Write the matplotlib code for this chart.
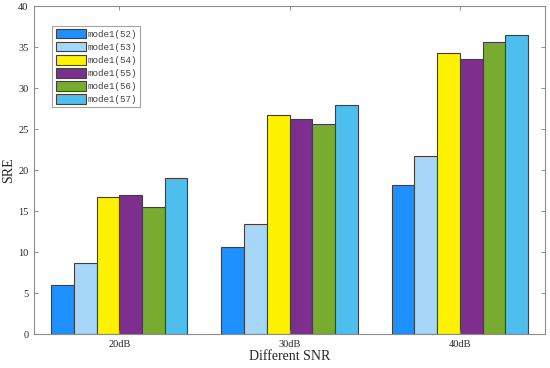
import matplotlib
matplotlib.use("Agg")
import matplotlib.pyplot as plt
import numpy as np

# data
groups = ['20dB', '30dB', '40dB']
models = ['mode1(52)', 'mode1(53)', 'mode1(54)', 'mode1(55)', 'mode1(56)', 'mode1(57)']
m52 = [6.0, 10.6, 18.2]
m53 = [8.7, 13.4, 21.7]
m54 = [16.7, 26.7, 34.35]
m55 = [16.95, 26.3, 33.55]
m56 = [15.5, 25.6, 35.6]
m57 = [19.0, 27.9, 36.5]
series = [m52, m53, m54, m55, m56, m57]
colors = ['#1E90FF', '#A6D6F8', '#FFF200', '#7E2F8E', '#77AC30', '#4DBEEE']

fig = plt.figure(figsize=(5.5, 3.68), dpi=100)
ax = fig.add_axes([0.062, 0.092, 0.929, 0.891])

x = np.arange(1, len(groups) + 1)
w = 0.8 / len(series)
for i, (vals, c, lab) in enumerate(zip(series, colors, models)):
    ax.bar(x + (i - 2.5) * w, vals, width=w, color=c, edgecolor='#404040',
           linewidth=0.8, label=lab)

ax.set_xlim(0.5, 3.5)
ax.set_ylim(0, 40)
ax.set_xticks(x)
ax.set_xticklabels(groups)
ax.set_yticks(range(0, 41, 5))
ax.tick_params(direction='in', top=True, right=True, length=3, width=0.6,
               color='#808080', labelsize=7.5, labelcolor='#262626', pad=4)
for lbl in ax.get_xticklabels() + ax.get_yticklabels():
    lbl.set_family('Liberation Serif')
for s in ax.spines.values():
    s.set_color('#8c8c8c')
    s.set_linewidth(0.8)

ax.set_xlabel('Different SNR', family='Liberation Serif', fontsize=10, color='#262626', labelpad=1)
ax.set_ylabel('SRE', family='Liberation Serif', fontsize=10, color='#262626', labelpad=2)

leg = ax.legend(loc='upper left', bbox_to_anchor=(0.036, 0.94), fancybox=False,
                prop={'family': 'Liberation Mono', 'size': 6.6}, handlelength=3.3,
                handleheight=1.2, handletextpad=0.2, labelspacing=0.36,
                borderpad=0.33, borderaxespad=0)
leg.get_frame().set_edgecolor('#8c8c8c')
leg.get_frame().set_linewidth(0.8)
for t in leg.get_texts():
    t.set_color('#404040')

fig.savefig('out.png', dpi=100)
